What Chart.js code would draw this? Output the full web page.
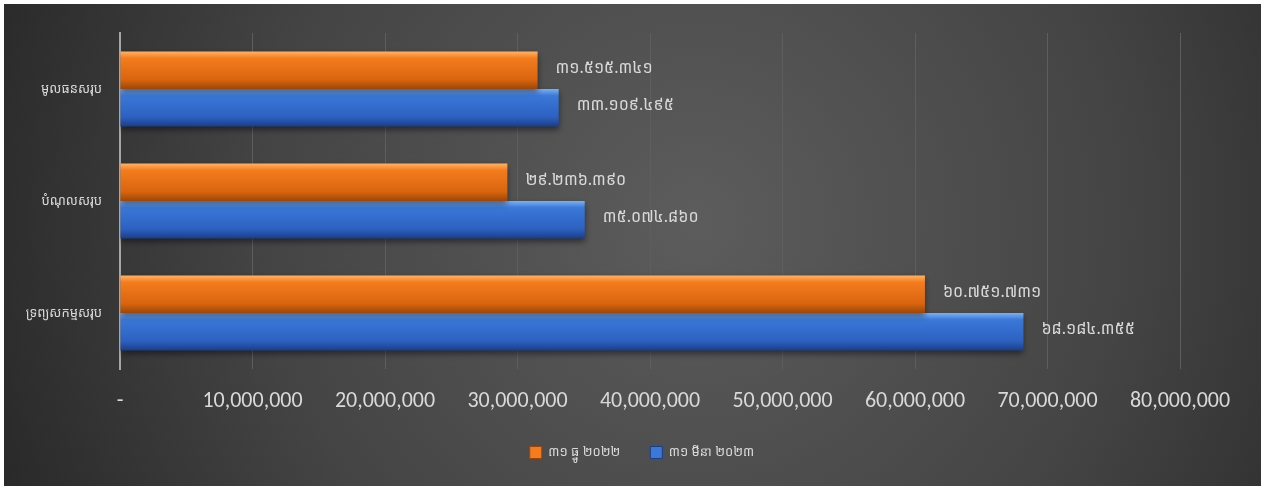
<!DOCTYPE html>
<html>
<head>
<meta charset="utf-8">
<script src="https://cdn.jsdelivr.net/npm/chart.js@4"></script>
<style>
  html, body { margin: 0; padding: 0; background: #ffffff; }
  #wrap { position: absolute; left: 4px; top: 4px; width: 1257px; height: 482px; }
</style>
</head>
<body>
<div id="wrap"><canvas id="chart"></canvas></div>
<script>
const categories = ["មូលធនសរុប", "បំណុលសរុប", "ទ្រព្យសកម្មសរុប"];
const seriesNames = ["៣១ ធ្នូ ២០២២", "៣១ មីនា ២០២៣"];
const values2022 = [31515341, 29236390, 60751731];
const values2023 = [33109495, 35074860, 68184355];
const tickValues = [0, 10000000, 20000000, 30000000, 40000000, 50000000, 60000000, 70000000, 80000000];

const khmerFont = "'Noto Sans Khmer', 'Khmer OS', 'Khmer OS System', 'DejaVu Sans', sans-serif";
const latinFont = "Calibri, Carlito, 'Liberation Sans', 'Open Sans', sans-serif";
const textColor = "#d9d9d9";

// Khmer digits with dot group separators, like the source labels
const toKhmer = (n) => {
  const digits = "០១២៣៤៥៦៧៨៩";
  const s = Math.round(n).toString().replace(/\B(?=(\d{3})+(?!\d))/g, ".");
  return s.replace(/\d/g, (d) => digits[+d]);
};

const palettes = [
  { light: "#ffb463", mid: "#f47c1e", dark: "#d9650f", edge: "#9c4508" },
  { light: "#79b1f5", mid: "#3b78d8", dark: "#2c61c0", edge: "#1b3d86" },
];

// dark radial background
const backgroundPlugin = {
  id: "bg",
  beforeDraw(chart) {
    const { ctx, width, height } = chart;
    const g = ctx.createRadialGradient(width * 0.55, height * 0.45, 10, width * 0.55, height * 0.45, width * 0.62);
    g.addColorStop(0, "#5c5c5c");
    g.addColorStop(0.55, "#444444");
    g.addColorStop(1, "#262626");
    ctx.save();
    ctx.fillStyle = g;
    ctx.fillRect(0, 0, width, height);
    ctx.restore();
  },
  // nudge the legend to the right, the source centres it under the full width
  afterLayout(chart) {
    if (chart.legend) {
      chart.legend.left += 50;
      chart.legend.right += 50;
    }
  },
};

// bevelled look for each bar, built from the bar element geometry
const bevelPlugin = {
  id: "bevel",
  beforeDatasetsDraw(chart) {
    const { ctx } = chart;
    chart.data.datasets.forEach((ds, di) => {
      const p = palettes[di];
      chart.getDatasetMeta(di).data.forEach((bar) => {
        const top = bar.y - bar.height / 2;
        const bottom = bar.y + bar.height / 2;
        const g = ctx.createLinearGradient(0, top, 0, bottom);
        g.addColorStop(0, p.light);
        g.addColorStop(0.18, p.mid);
        g.addColorStop(0.75, p.dark);
        g.addColorStop(1, p.edge);
        bar.options = Object.assign({}, bar.options, { backgroundColor: g });
      });
    });
    ctx.save();
    ctx.shadowColor = "rgba(0,0,0,0.45)";
    ctx.shadowBlur = 6;
    ctx.shadowOffsetY = 3;
  },
  afterDatasetsDraw(chart) {
    chart.ctx.restore();
  },
};

// value labels after each bar
const valueLabelPlugin = {
  id: "valueLabels",
  afterDatasetsDraw(chart) {
    const { ctx } = chart;
    ctx.save();
    ctx.font = "16px " + khmerFont;
    ctx.fillStyle = textColor;
    ctx.textAlign = "left";
    ctx.textBaseline = "middle";
    chart.data.datasets.forEach((ds, di) => {
      chart.getDatasetMeta(di).data.forEach((bar, i) => {
        ctx.fillText(toKhmer(ds.data[i]), bar.x + 18, bar.y - 2);
      });
    });
    ctx.restore();
  },
};

new Chart(document.getElementById("chart"), {
  type: "bar",
  data: {
    labels: categories,
    datasets: [
      { label: seriesNames[0], data: values2022, backgroundColor: palettes[0].mid },
      { label: seriesNames[1], data: values2023, backgroundColor: palettes[1].mid },
    ],
  },
  options: {
    indexAxis: "y",
    responsive: true,
    maintainAspectRatio: false,
    animation: false,
    layout: { padding: { top: 29, right: 81, bottom: 17, left: 0 } },
    datasets: {
      bar: { categoryPercentage: 0.67, barPercentage: 1.0, borderWidth: 0 },
    },
    scales: {
      x: {
        min: 0,
        max: 80000000,
        afterBuildTicks: (axis) => {
          axis.ticks = tickValues.map((v) => ({ value: v }));
        },
        afterFit: (axis) => { axis.height = 47; },
        grid: { color: "#5e5e5e", lineWidth: 1, drawTicks: false },
        border: { display: false },
        ticks: {
          color: textColor,
          padding: 19,
          font: { family: latinFont, size: 22 },
          callback: (v) => (v === 0 ? "-" : v.toLocaleString("en-US")),
        },
      },
      y: {
        afterFit: (axis) => { axis.width = 116; },
        grid: { display: false, drawTicks: false },
        border: { display: true, color: "#a6a6a6", width: 2 },
        ticks: {
          color: textColor,
          padding: 18,
          font: { family: khmerFont, size: 13 },
        },
      },
    },
    plugins: {
      legend: {
        position: "bottom",
        labels: {
          color: textColor,
          boxWidth: 12,
          boxHeight: 12,
          padding: 30,
          font: { family: khmerFont, size: 13 },
          generateLabels: (chart) =>
            chart.data.datasets.map((ds, i) => ({
              text: ds.label,
              fillStyle: palettes[i].mid,
              strokeStyle: palettes[i].edge,
              lineWidth: 1,
              fontColor: textColor,
              datasetIndex: i,
              hidden: false,
            })),
        },
      },
      tooltip: { enabled: false },
    },
  },
  plugins: [backgroundPlugin, bevelPlugin, valueLabelPlugin],
});
</script>
</body>
</html>
